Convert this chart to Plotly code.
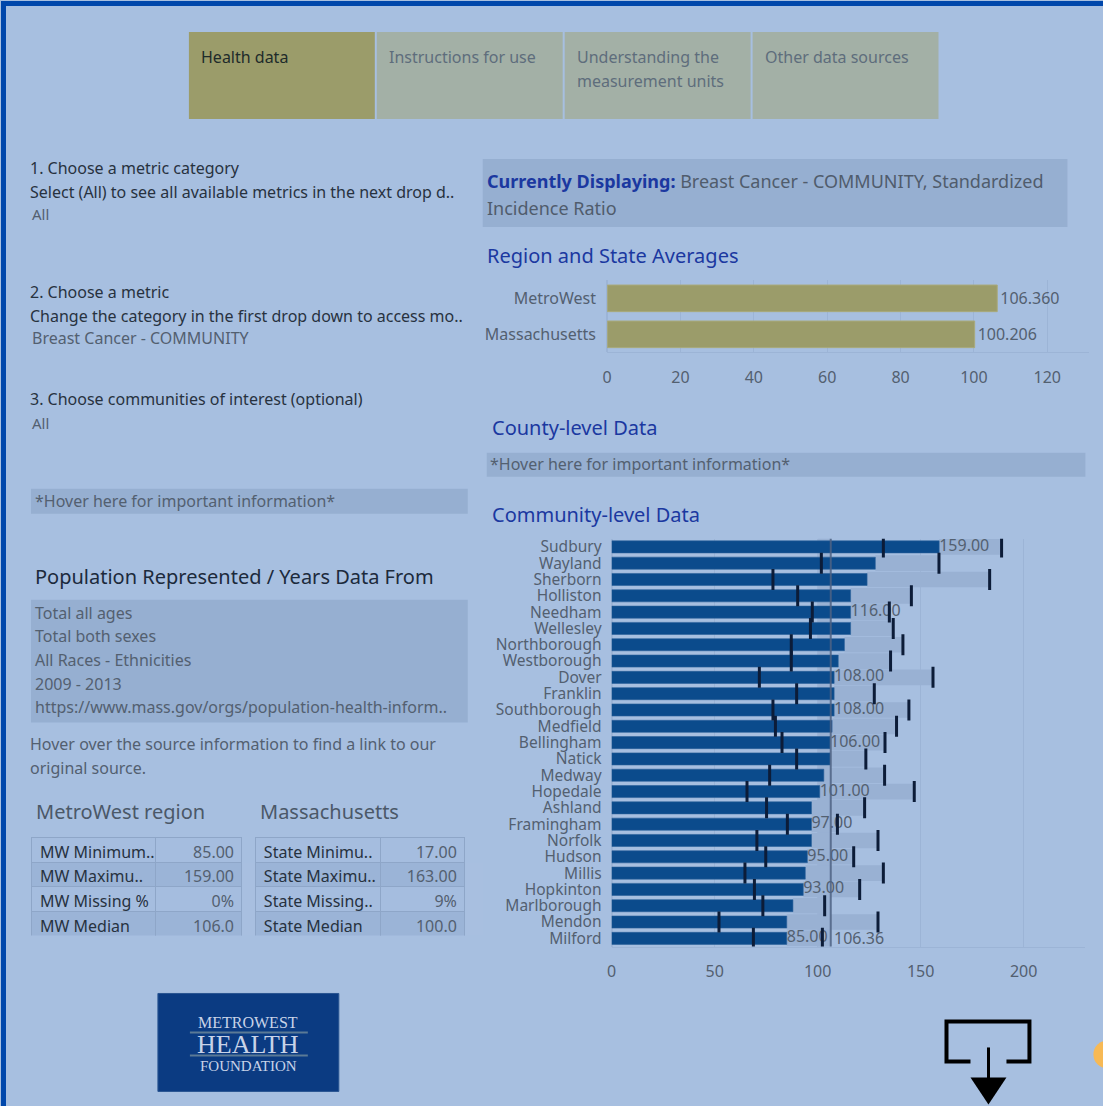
import plotly.graph_objects as go

W, H = 1103, 1106
FONT = "Noto Sans"
BG = "#a7bfe0"
BOX = "#96afd1"
TXT = "#536070"
DARK_TXT = "#27323f"
TITLE_BLUE = "#1b38a0"

# ---- data ----
tabs = ["Health data", "Instructions for use", "Understanding the<br>measurement units", "Other data sources"]

region_names = ["MetroWest", "Massachusetts"]
region_values = [106.360, 100.206]

communities = ["Sudbury", "Wayland", "Sherborn", "Holliston", "Needham", "Wellesley",
               "Northborough", "Westborough", "Dover", "Franklin", "Southborough",
               "Medfield", "Bellingham", "Natick", "Medway", "Hopedale", "Ashland",
               "Framingham", "Norfolk", "Hudson", "Millis", "Hopkinton", "Marlborough",
               "Mendon", "Milford"]
community_values = [159, 128, 124, 116, 116, 116, 113, 110, 108, 108, 108, 107, 106, 106,
                    103, 101, 97, 97, 97, 95, 94, 93, 88, 85, 85]
ci_lower = [131.9, 101.8, 78.3, 90.3, 97.4, 96.5, 87.2, 87.2, 71.7, 89.8, 78.3, 79.5, 82.7,
            89.8, 76.7, 65.7, 75.2, 85.3, 70.5, 74.8, 64.7, 69.3, 73.4, 52.1, 68.8]
ci_upper = [189.3, 158.9, 183.5, 145.5, 134.8, 136.7, 141.4, 135.4, 156.0, 127.5, 144.3,
            138.3, 132.7, 123.4, 132.5, 146.9, 122.8, 109.6, 129.3, 117.5, 131.9, 120.4,
            103.4, 129.3, 102.3]
labelled = ["Sudbury", "Needham", "Dover", "Southborough", "Bellingham", "Hopedale",
            "Framingham", "Hudson", "Hopkinton", "Milford"]

mw_labels = ["MW Minimum..", "MW Maximu..", "MW Missing %", "MW Median"]
mw_values = ["85.00", "159.00", "0%", "106.0"]
state_labels = ["State Minimu..", "State Maximu..", "State Missing..", "State Median"]
state_values = ["17.00", "163.00", "9%", "100.0"]

population_lines = ["Total all ages", "Total both sexes", "All Races - Ethnicities",
                    "2009 - 2013", "https://www.mass.gov/orgs/population-health-inform.."]


# page pixel -> paper coords (small correction for how the page is photographed)
def fx(x):
    return ((x - 4) / 0.996) / W


def fy(y):
    return 1 - ((y - 2) / 0.996) / H


shapes = []
notes = []


def box(x0, y0, x1, y1, fill, line=None, width=0, layer="below"):
    shapes.append(dict(type="rect", xref="paper", yref="paper",
                       x0=fx(x0), x1=fx(x1), y0=fy(y1), y1=fy(y0),
                       fillcolor=fill, line=dict(color=line or fill, width=width), layer=layer))


def note(x, y, text, size=16, color=TXT, family=FONT, anchor="left"):
    notes.append(dict(x=fx(x), y=fy(y), xref="paper", yref="paper", text=text,
                      showarrow=False, xanchor=anchor, yanchor="middle", align="left",
                      borderpad=0, borderwidth=0,
                      font=dict(family=family, size=size, color=color)))


# frame
box(0, 0, W, 5, "#0047ab")
box(0, 0, 5, H, "#0047ab")

# tabs
tab_x = [188, 376, 564, 752]
for i, (t, x0) in enumerate(zip(tabs, tab_x)):
    box(x0, 31, x0 + 186, 118, "#9b9c6a" if i == 0 else "#a3b0a6")
    for j, part in enumerate(t.split("<br>")):
        note(x0 + 12, 56 + j * 24, part, 16, "#1e2b2a" if i == 0 else "#5e6d7c")

# left filters
note(29, 167, "1. Choose a metric category", 16, DARK_TXT)
note(29, 191, "Select (All) to see all available metrics in the next drop d..", 16, DARK_TXT)
note(31, 213, "All", 15)
note(29, 291, "2. Choose a metric", 16, DARK_TXT)
note(29, 315, "Change the category in the first drop down to access mo..", 16, DARK_TXT)
note(31, 337, "Breast Cancer - COMMUNITY", 16)
note(29, 398, "3. Choose communities of interest (optional)", 16, DARK_TXT)
note(31, 422, "All", 15)

box(30, 488, 467, 513, BOX)
note(34, 500, "*Hover here for important information*", 16)

note(34, 576, "Population Represented / Years Data From", 20, "#1c2a3c")
box(30, 599, 467, 722, BOX)
for i, line in enumerate(population_lines):
    note(34, 612 + i * 23.7, line, 16)
note(29, 743, "Hover over the source information to find a link to our", 16)
note(29, 767, "original source.", 16)

note(35, 811, "MetroWest region", 20, "#4b5868")
note(259, 811, "Massachusetts", 20, "#4b5868")

# right header
box(482, 158, 1067, 226, BOX)
note(486, 180, "<b>Currently Displaying:</b> <span style='color:#505c6c'>Breast Cancer - COMMUNITY, Standardized</span>",
     18, TITLE_BLUE)
note(486, 207, "Incidence Ratio", 18, "#505c6c")
note(486, 255, "Region and State Averages", 20, TITLE_BLUE)
note(491, 427, "County-level Data", 20, TITLE_BLUE)
box(486, 452, 1085, 476, BOX)
note(489, 463, "*Hover here for important information*", 16)
note(491, 514, "Community-level Data", 20, TITLE_BLUE)

# logo
box(157, 993, 338, 1091, "#0b3b82", "#2a5591", 1)
note(247.5, 1022, "METROWEST", 16, "#c8d3e8", "Liberation Serif", "center")
note(247.5, 1044, "HEALTH", 26, "#c8d3e8", "Liberation Serif", "center")
note(247.5, 1066, "FOUNDATION", 15, "#c8d3e8", "Liberation Serif", "center")
for yy in (1032, 1055):
    shapes.append(dict(type="line", xref="paper", yref="paper", x0=fx(189), x1=fx(307),
                       y0=fy(yy), y1=fy(yy), line=dict(color="#5b7a96", width=2)))

# download icon
pts = [(970, 1061), (946, 1061), (946, 1021), (1029, 1021), (1029, 1061), (1006, 1061)]
shapes.append(dict(type="path", xref="paper", yref="paper",
                   path="M " + " L ".join(f"{fx(a)} {fy(b)}" for a, b in pts),
                   line=dict(color="black", width=4)))
shapes.append(dict(type="line", xref="paper", yref="paper", x0=fx(988), x1=fx(988),
                   y0=fy(1047), y1=fy(1080), line=dict(color="black", width=3)))
tri = [(970, 1077), (1006, 1077), (988, 1104)]
shapes.append(dict(type="path", xref="paper", yref="paper",
                   path="M " + " L ".join(f"{fx(a)} {fy(b)}" for a, b in tri) + " Z",
                   fillcolor="black", line=dict(color="black", width=0)))
shapes.append(dict(type="circle", xref="paper", yref="paper", x0=fx(1093), x1=fx(1121),
                   y0=fy(1068), y1=fy(1040), fillcolor="#f7b955", line=dict(width=0)))

fig = go.Figure()

# region and state averages
fig.add_trace(go.Bar(
    y=region_names, x=region_values, orientation="h", width=0.74,
    marker=dict(color="#9b9c6a", line=dict(color="#a9aa7c", width=1)),
    text=[f"{v:.3f}" for v in region_values], textposition="outside",
    textfont=dict(family=FONT, size=16, color=TXT), constraintext="none",
    cliponaxis=False, xaxis="x", yaxis="y", hoverinfo="x+y"))

# community: band up to upper CI, value bar, labels, CI ticks
fig.add_trace(go.Bar(
    y=communities, x=[u - v for u, v in zip(ci_upper, community_values)], base=community_values,
    orientation="h", width=0.96, marker=dict(color="#99b1d3", line=dict(width=0)),
    xaxis="x2", yaxis="y2", hoverinfo="skip"))
fig.add_trace(go.Bar(
    y=communities, x=community_values, orientation="h", width=0.74,
    marker=dict(color="#0b4b8c", line=dict(color="#2a5f99", width=0.6)),
    xaxis="x2", yaxis="y2"))
fig.add_trace(go.Scatter(
    y=communities, x=community_values, mode="text",
    text=[f"{v:.2f}" if c in labelled else "" for c, v in zip(communities, community_values)],
    textposition="middle right", textfont=dict(family=FONT, size=16, color=TXT),
    cliponaxis=False, xaxis="x2", yaxis="y2", hoverinfo="skip"))
fig.add_trace(go.Scatter(
    y=communities + communities, x=ci_lower + ci_upper, mode="markers",
    marker=dict(symbol="line-ns", size=15, line=dict(color="#0c1c38", width=3)),
    xaxis="x2", yaxis="y2"))

# reference band and MetroWest average line
shapes.append(dict(type="rect", xref="x2", yref="y2 domain", x0=region_values[1], x1=region_values[0],
                   y0=0, y1=1, fillcolor="#99b1d3", line=dict(width=0), layer="below"))
shapes.append(dict(type="line", xref="x2", yref="y2 domain", x0=region_values[0], x1=region_values[0],
                   y0=0, y1=1, line=dict(color="#4f6384", width=2), opacity=0.85, layer="above"))
notes.append(dict(x=region_values[0], y=communities[-1], xref="x2", yref="y2",
                  text=f"{region_values[0]:.2f}", showarrow=False, xanchor="left", xshift=1,
                  font=dict(family=FONT, size=16, color=TXT)))

# summary tables (first row drawn as the header row)
fills = ["#a5bddf", "#9bb4d7", "#a5bddf", "#9bb4d7"]
for x0, xm, x1, labs, vals in [(31, 155, 242, mw_labels, mw_values),
                               (255, 380, 465, state_labels, state_values)]:
    labs = [s.replace(" ", "\u00a0") for s in labs]
    cell_font = dict(family=FONT, size=16, color=[DARK_TXT, TXT])
    fig.add_trace(go.Table(
        domain=dict(x=[fx(x0), fx(x1)], y=[fy(936), fy(837)]),
        columnwidth=[xm - x0, x1 - xm],
        header=dict(values=[labs[0], vals[0]], align=["left", "right"], height=24.7,
                    fill=dict(color=fills[0]), line=dict(color="#8ea6c8", width=1),
                    font=cell_font),
        cells=dict(values=[labs[1:], vals[1:]], align=["left", "right"], height=24.7,
                   fill=dict(color=[fills[1:], fills[1:]]), line=dict(color="#8ea6c8", width=1),
                   font=cell_font)))

grid = "#9cb4d6"
fig.update_layout(
    width=W, height=H, margin=dict(l=0, r=0, t=0, b=0),
    paper_bgcolor=BG, plot_bgcolor="rgba(0,0,0,0)",
    showlegend=False, barmode="overlay",
    font=dict(family=FONT, color=TXT),
    shapes=shapes, annotations=notes,
    xaxis=dict(domain=[fx(606.5), fx(1089)], range=[0, 131.5], tickvals=list(range(0, 121, 20)),
               showgrid=True, gridcolor=grid, zeroline=True, zerolinecolor=grid,
               showline=True, linecolor=grid, ticks="outside", ticklen=10,
               tickcolor="rgba(0,0,0,0)", tickfont=dict(size=16, color=TXT), anchor="y"),
    yaxis=dict(domain=[fy(351.5), fy(279.5)], range=[1.5, -0.5], ticks="outside", ticklen=7,
               tickcolor="rgba(0,0,0,0)", tickfont=dict(size=16, color=TXT), anchor="x"),
    xaxis2=dict(domain=[fx(611), fx(1085)], range=[0, 230], tickvals=[0, 50, 100, 150, 200],
                showgrid=True, gridcolor=grid, zeroline=True, zerolinecolor=grid,
                showline=True, linecolor=grid, ticks="outside", ticklen=10,
                tickcolor="rgba(0,0,0,0)", tickfont=dict(size=16, color=TXT), anchor="y2"),
    yaxis2=dict(domain=[fy(946), fy(538)], range=[len(communities) - 0.5, -0.5],
                categoryorder="array", categoryarray=communities, tickmode="linear", dtick=1,
                ticks="outside", ticklen=6, tickcolor="rgba(0,0,0,0)",
                tickfont=dict(size=15.5, color=TXT), anchor="x2"),
)

fig.write_html("out.html", config={"displayModeBar": False},
               post_script="document.body.style.margin='0';document.body.style.overflow='hidden';")
